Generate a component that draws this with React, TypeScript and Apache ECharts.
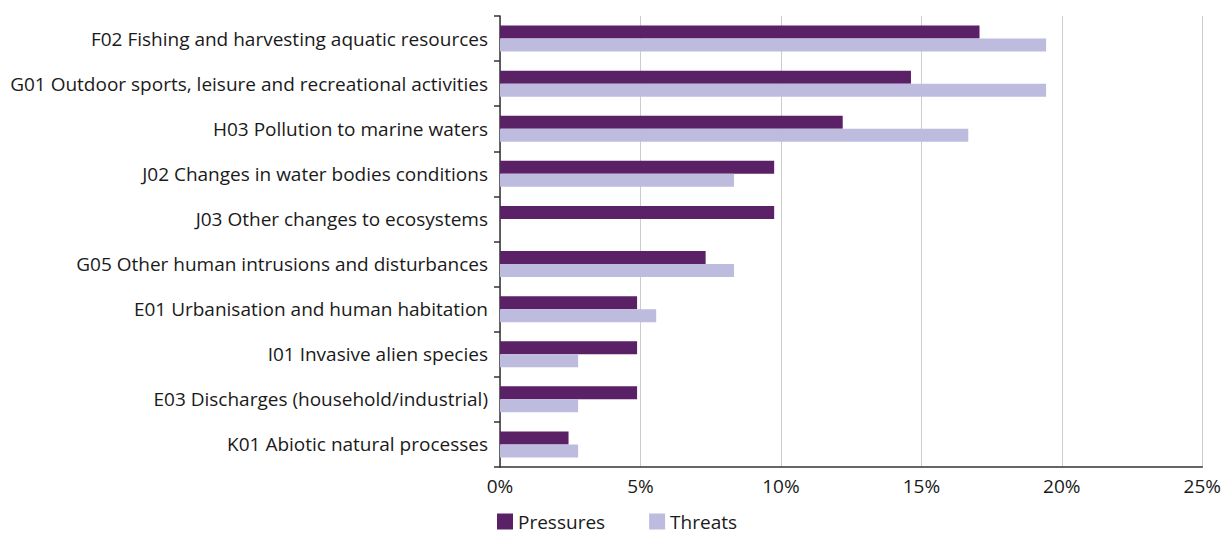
import React, { useEffect, useRef } from "react";
import * as echarts from "echarts";

const categories = [
  "F02 Fishing and harvesting aquatic resources",
  "G01 Outdoor sports, leisure and recreational activities",
  "H03 Pollution to marine waters",
  "J02 Changes in water bodies conditions",
  "J03 Other changes to ecosystems",
  "G05 Other human intrusions and disturbances",
  "E01 Urbanisation and human habitation",
  "I01 Invasive alien species",
  "E03 Discharges (household/industrial)",
  "K01 Abiotic natural processes",
];
const pressures = [17.07, 14.63, 12.2, 9.76, 9.76, 7.32, 4.88, 4.88, 4.88, 2.44];
const threats = [19.44, 19.44, 16.67, 8.33, 0, 8.33, 5.56, 2.78, 2.78, 2.78];
const seriesNames = ["Pressures", "Threats"];
const colors = ["#5B2166", "#BDBBDE"];

export default function App() {
  const ref = useRef<HTMLDivElement>(null);
  useEffect(() => {
    if (!ref.current) return;
    const chart = echarts.init(ref.current, null, { renderer: "svg" });
    const font = "'Open Sans', 'Noto Sans', sans-serif";
    chart.setOption({
      animation: false,
      textStyle: { fontFamily: font },
      grid: { left: 500, right: 16, top: 16, bottom: 67, containLabel: false },
      legend: {
        left: 492,
        top: 507,
        itemWidth: 16,
        itemHeight: 16,
        itemGap: 44,
        icon: "rect",
        textStyle: { fontSize: 19, color: "#1a1a1a", fontFamily: font },
        data: seriesNames,
      },
      xAxis: {
        type: "value",
        min: 0,
        max: 25,
        interval: 5,
        axisLine: { show: true, lineStyle: { color: "#333", width: 1.5 } },
        axisTick: { show: false },
        splitLine: { show: true, lineStyle: { color: "#cccccc", width: 1 } },
        axisLabel: { formatter: "{value}%", fontSize: 19, color: "#1a1a1a", margin: 9, fontFamily: font },
      },
      yAxis: {
        type: "category",
        inverse: true,
        data: categories,
        axisLine: { show: true, lineStyle: { color: "#333", width: 1.5 } },
        axisTick: { show: true, length: 6, lineStyle: { color: "#333", width: 1.5 } },
        axisLabel: { fontSize: 19, color: "#1a1a1a", margin: 12, fontFamily: font },
      },
      series: [
        {
          name: seriesNames[0],
          type: "bar",
          data: pressures,
          barWidth: 13,
          barGap: "0%",
          itemStyle: { color: colors[0] },
        },
        {
          name: seriesNames[1],
          type: "bar",
          data: threats,
          barWidth: 13,
          barGap: "0%",
          itemStyle: { color: colors[1] },
        },
      ],
    });
    return () => chart.dispose();
  }, []);
  return (
    <div
      ref={ref}
      style={{ position: "fixed", left: 0, top: 0, width: 1224, height: 534, background: "#fff" }}
    />
  );
}
